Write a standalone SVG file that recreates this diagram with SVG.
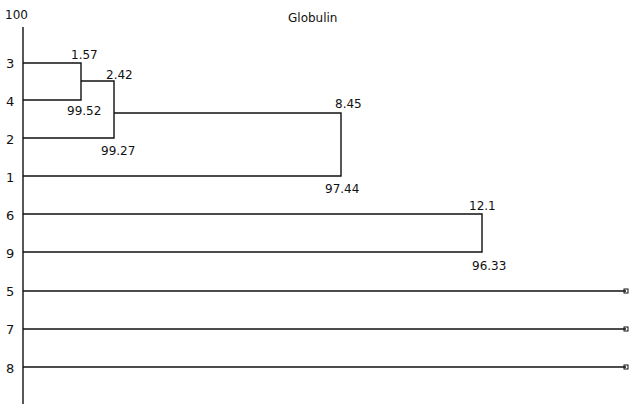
<svg xmlns="http://www.w3.org/2000/svg" width="630" height="404" viewBox="0 0 630 404">
<style>
text{font-family:"DejaVu Sans","Liberation Sans",sans-serif;font-size:12px;fill:#111}
.r{font-size:13px}
.v{font-size:12px}
.ln{fill:none;stroke:#111;stroke-width:1.4}
</style>
<rect width="630" height="404" fill="#fff"/>
<g id="axis">
<line class="ln" x1="23" y1="27" x2="23" y2="404"/>
<text x="5" y="19">100</text>
<text x="288" y="22">Globulin</text>
</g>
<g id="labels">
<text class="r" x="6" y="68">3</text>
<text class="r" x="6" y="106">4</text>
<text class="r" x="6" y="144">2</text>
<text class="r" x="6" y="182">1</text>
<text class="r" x="6" y="220">6</text>
<text class="r" x="6" y="258">9</text>
<text class="r" x="6" y="296">5</text>
<text class="r" x="6" y="334">7</text>
<text class="r" x="6" y="373">8</text>
</g>
<g id="connectors">
<path class="ln" d="M23,63H81V100H23"/>
<path class="ln" d="M81,81H114V138H23"/>
<path class="ln" d="M114,113H341V176H23"/>
<path class="ln" d="M23,214H482V252H23"/>
<path class="ln" d="M23,291H626"/>
<path class="ln" d="M23,329H626"/>
<path class="ln" d="M23,367H626"/>
<rect x="624" y="289" width="4" height="4" fill="none" stroke="#111" stroke-width="1"/>
<rect x="624" y="327" width="4" height="4" fill="none" stroke="#111" stroke-width="1"/>
<rect x="624" y="365" width="4" height="4" fill="none" stroke="#111" stroke-width="1"/>
</g>
<g id="values">
<text class="v" x="71" y="59">1.57</text>
<text class="v" x="106" y="79">2.42</text>
<text class="v" x="67" y="115">99.52</text>
<text class="v" x="101" y="155">99.27</text>
<text class="v" x="335" y="108">8.45</text>
<text class="v" x="325" y="193">97.44</text>
<text class="v" x="469" y="210">12.1</text>
<text class="v" x="472" y="270">96.33</text>
</g>
</svg>
